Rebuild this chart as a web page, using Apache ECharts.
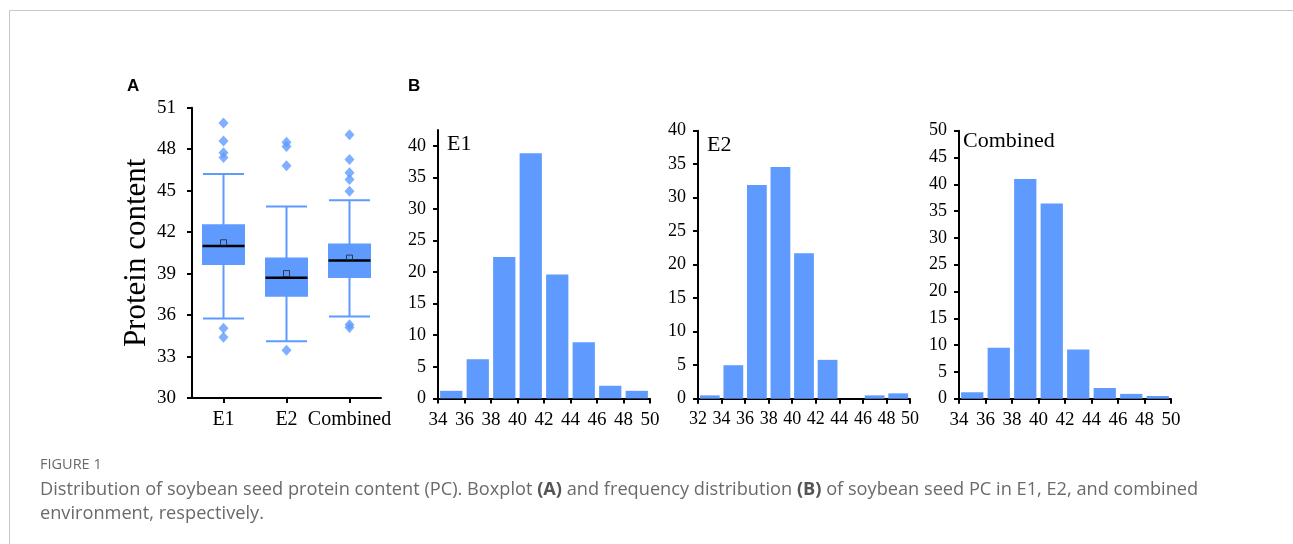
<!DOCTYPE html>
<html><head><meta charset="utf-8">
<script src="https://cdn.jsdelivr.net/npm/echarts@6.0.0/dist/echarts.min.js"></script>
<style>html,body{margin:0;padding:0;background:#fff}#c{width:1293px;height:544px}</style>
</head><body><div id="c"></div>
<script>
// ---- Boxplot (A) data ----
const boxCategories = ['E1', 'E2', 'Combined'];
// [lower whisker, Q1, median, Q3, upper whisker]
const boxStats = [
  [35.75, 39.7, 41.0, 42.5, 46.2],
  [34.1, 37.4, 38.7, 40.1, 43.85],
  [35.9, 38.75, 39.95, 41.1, 44.3]
];
const boxMeans = [41.23, 39.0, 40.12];
const outliersE1 = [49.9, 48.6, 47.75, 47.4, 35.05, 34.4];
const outliersE2 = [48.5, 48.2, 46.8, 33.45];
const outliersCombined = [49.05, 47.25, 46.3, 45.8, 44.95, 35.3, 35.1];
const boxYTicks = [30, 33, 36, 39, 42, 45, 48, 51];

// ---- Histograms (B) data ----
const edgesE1 = [34, 36, 38, 40, 42, 44, 46, 48, 50];
const countsE1 = [1.2, 6.2, 22.4, 38.8, 19.6, 8.9, 2.0, 1.2];
const edgesE2 = [32, 34, 36, 38, 40, 42, 44, 46, 48, 50];
const countsE2 = [0.5, 5.0, 31.9, 34.6, 21.7, 5.8, 0, 0.5, 0.8];
const edgesCombined = [34, 36, 38, 40, 42, 44, 46, 48, 50];
const countsCombined = [1.2, 9.5, 41.0, 36.4, 9.2, 2.0, 0.9, 0.5];
const ticksE1Y = [0, 5, 10, 15, 20, 25, 30, 35, 40];
const ticksE2Y = [0, 5, 10, 15, 20, 25, 30, 35, 40];
const ticksCombinedY = [0, 5, 10, 15, 20, 25, 30, 35, 40, 45, 50];

const BLUE = '#5f9bff';
const SERIF = '"Liberation Serif", "Times New Roman", serif';
const CAPTION_FONT = '"Open Sans", Lato, sans-serif';

const axisLine = { show: true, lineStyle: { color: '#000', width: 2 } };
const axisTick = { show: true, length: 5, lineStyle: { color: '#000', width: 2 } };

function histX(idx, edges, fs) {
  return {
    type: 'value', gridIndex: idx, min: edges[0], max: edges[edges.length - 1], interval: 2,
    axisLine, axisTick, splitLine: { show: false },
    axisLabel: { color: '#000', fontFamily: SERIF, fontSize: fs, margin: 12, showMinLabel: true, showMaxLabel: true }
  };
}
function histY(idx, max, ticks) {
  return {
    type: 'value', gridIndex: idx, min: 0, max: max,
    axisLine, splitLine: { show: false },
    axisTick: Object.assign({}, axisTick, { customValues: ticks }),
    axisLabel: { color: '#000', fontFamily: SERIF, fontSize: 18, margin: 12, customValues: ticks }
  };
}
function histSeries(idx, edges, counts) {
  return {
    type: 'custom', xAxisIndex: idx, yAxisIndex: idx,
    data: counts.map((c, i) => [edges[i], edges[i + 1], c]),
    encode: { x: [0, 1], y: 2 },
    renderItem(params, api) {
      const top = api.coord([api.value(0), api.value(2)]);
      const bot = api.coord([api.value(1), 0]);
      const w = bot[0] - top[0];
      const inset = w * 0.08;
      return {
        type: 'rect',
        shape: { x: top[0] + inset, y: top[1], width: w - 2 * inset, height: bot[1] - top[1] },
        style: { fill: BLUE }
      };
    }
  };
}

const outlierData = [];
[outliersE1, outliersE2, outliersCombined].forEach((arr, i) => arr.forEach(v => outlierData.push([i, v])));

const option = {
  animation: false,
  backgroundColor: '#fff',
  grid: [
    { left: 192, top: 107.7, width: 189, height: 290.3 },
    { left: 438, top: 130, width: 212, height: 268.4 },
    { left: 698, top: 130.7, width: 212, height: 268 },
    { left: 959, top: 130.7, width: 212, height: 268 }
  ],
  xAxis: [
    {
      type: 'category', gridIndex: 0, data: boxCategories,
      axisLine, axisTick: Object.assign({}, axisTick, { alignWithLabel: true }),
      axisLabel: { color: '#000', fontFamily: SERIF, fontSize: 20, margin: 12, interval: 0 }
    },
    histX(1, edgesE1, 19), histX(2, edgesE2, 18), histX(3, edgesCombined, 19)
  ],
  yAxis: [
    {
      type: 'value', gridIndex: 0, min: boxYTicks[0], max: boxYTicks[boxYTicks.length - 1], interval: 3,
      axisLine, axisTick, splitLine: { show: false },
      axisLabel: { color: '#000', fontFamily: SERIF, fontSize: 19, margin: 16 },
      name: 'Protein content', nameLocation: 'middle', nameGap: 40,
      nameTextStyle: { color: '#000', fontFamily: SERIF, fontSize: 31 }
    },
    histY(1, 42.5, ticksE1Y), histY(2, 40, ticksE2Y), histY(3, 50, ticksCombinedY)
  ],
  series: [
    {
      type: 'boxplot', xAxisIndex: 0, yAxisIndex: 0, data: boxStats,
      boxWidth: [41, 41],
      itemStyle: { color: BLUE, borderColor: BLUE, borderWidth: 2 },
      emphasis: { disabled: true }
    },
    {
      type: 'custom', xAxisIndex: 0, yAxisIndex: 0, z: 5,
      data: boxStats.map((d, i) => [i, d[2]]),
      renderItem(params, api) {
        const c = api.coord([api.value(0), api.value(1)]);
        return { type: 'line', shape: { x1: c[0] - 21, y1: c[1], x2: c[0] + 21, y2: c[1] }, style: { stroke: '#000', lineWidth: 2.5 } };
      }
    },
    {
      type: 'scatter', xAxisIndex: 0, yAxisIndex: 0, z: 6,
      data: boxMeans.map((m, i) => [i, m]),
      symbol: 'rect', symbolSize: 6,
      itemStyle: { color: 'rgba(0,0,0,0)', borderColor: '#222', borderWidth: 1 }
    },
    {
      type: 'scatter', xAxisIndex: 0, yAxisIndex: 0,
      data: outlierData, symbol: 'diamond', symbolSize: [10, 11],
      itemStyle: { color: BLUE }
    },
    histSeries(1, edgesE1, countsE1),
    histSeries(2, edgesE2, countsE2),
    histSeries(3, edgesCombined, countsCombined)
  ],
  graphic: [
    { type: 'rect', silent: true, shape: { x: 9.5, y: 10.5, width: 1400, height: 700 }, style: { fill: 'none', stroke: '#c8c8c8', lineWidth: 1 } },
    { type: 'text', left: 127, top: 78, style: { text: 'A', font: 'bold 17px "Liberation Sans", Arial, sans-serif', fill: '#000' } },
    { type: 'text', left: 408, top: 78, style: { text: 'B', font: 'bold 17px "Liberation Sans", Arial, sans-serif', fill: '#000' } },
    { type: 'text', left: 447, top: 133, style: { text: 'E1', font: '22px ' + SERIF, fill: '#000' } },
    { type: 'text', left: 707, top: 134, style: { text: 'E2', font: '22px ' + SERIF, fill: '#000' } },
    { type: 'text', left: 963, top: 130, style: { text: 'Combined', font: '22px ' + SERIF, fill: '#000' } },
    { type: 'text', left: 40, top: 457, style: { text: 'FIGURE 1', font: '14.5px ' + CAPTION_FONT, fill: '#6a6a6a' } },
    {
      type: 'text', left: 40, top: 478,
      style: {
        text: 'Distribution of soybean seed protein content (PC). Boxplot {b|(A)} and frequency distribution {b|(B)} of soybean seed PC in E1, E2, and combined\nenvironment, respectively.',
        font: '18.2px ' + CAPTION_FONT, fill: '#6a6a6a', lineHeight: 24,
        rich: { b: { font: 'bold 18.2px ' + CAPTION_FONT, fill: '#555', lineHeight: 24 } }
      }
    }
  ]
};
const chart = echarts.init(document.getElementById('c'), null, { renderer: 'canvas' });
chart.setOption(option);
</script>
</body></html>
